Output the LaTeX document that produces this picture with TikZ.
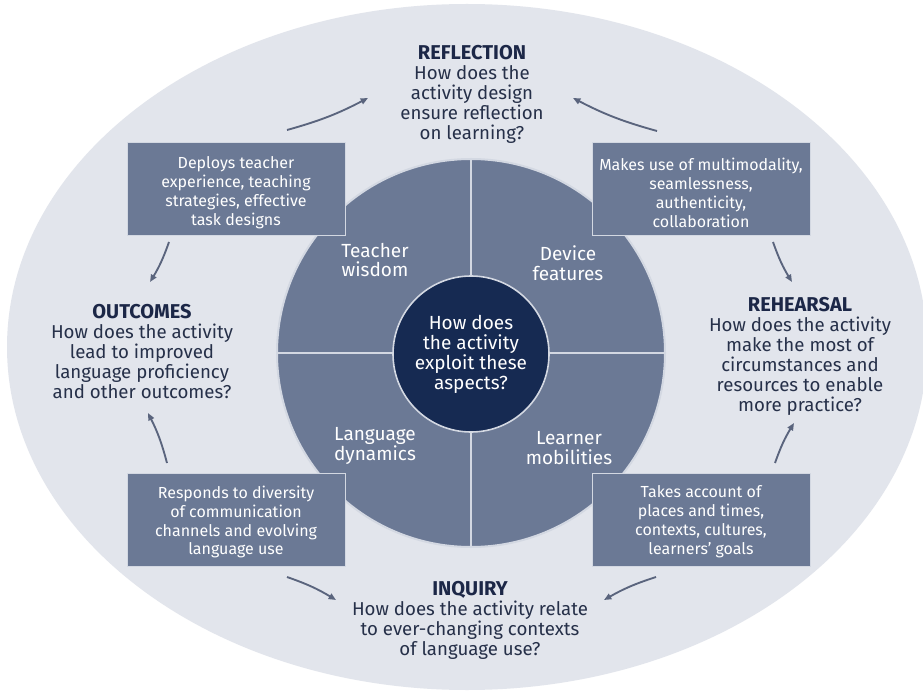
\documentclass[tikz,border=0pt]{standalone}
\usepackage{fontspec}
\setmainfont{Fira Sans}
\usetikzlibrary{arrows.meta}
\definecolor{outerbg}{HTML}{E2E5EC}
\definecolor{slate}{HTML}{6B7995}
\definecolor{navy}{HTML}{162A52}
\definecolor{ink}{HTML}{263049}
\definecolor{head}{HTML}{1C2747}
\definecolor{arrowc}{HTML}{5A647D}
\definecolor{rim}{HTML}{D3D8E2}
\newcommand{\hd}[1]{{\color{head}\fontsize{15}{15}\selectfont\bfseries #1}}
\begin{document}
\begin{tikzpicture}[x=0.75pt,y=-0.75pt,
  qtext/.style={text=ink, align=center, font=\fontsize{14}{15}\selectfont, inner sep=0pt},
  boxnode/.style={fill=slate, draw=rim, line width=0.75pt, minimum width=163.5pt, minimum height=69.75pt, inner sep=0pt},
  boxtext/.style={text=white, align=center, font=\fontsize{12}{14.2}\selectfont, inner sep=0pt},
  quad/.style={text=white, align=center, font=\fontsize{14.25}{14.8}\selectfont, inner sep=0pt},
  cyc/.style={draw=arrowc, line width=1.4pt, -{Triangle[length=5.5pt,width=4.5pt]}}]
\useasboundingbox (0,0) rectangle (923,691);
\fill[white] (0,0) rectangle (923,691);
% outer ellipse
\fill[outerbg] (467,347) ellipse [x radius=460, y radius=343];
% middle disc
\coordinate (c) at (471,353);
\fill[slate] (c) circle [radius=194];
\draw[rim, line width=1.5pt] (c) circle [radius=194];
\draw[rim, line width=1.5pt] (471,159) -- (471,547);
\draw[rim, line width=1.5pt] (277,353) -- (665,353);
% center disc
\node[circle, fill=navy, draw=rim, line width=1.2pt, minimum size=117pt, inner sep=0pt,
  text=white, align=center, font=\fontsize{14.25}{15}\selectfont] (ctr) at (471,354)
  {How does\\the activity\\exploit these\\aspects?};
% quadrant labels
\node[quad] (tw) at (375,260) {Teacher\\wisdom};
\node[quad] (df) at (568,263) {Device\\features};
\node[quad] (ld) at (375,446) {Language\\dynamics};
\node[quad] (lm) at (569,448) {Learner\\mobilities};
% boxes
\node[boxnode] (tl) at (236,189.5) {};
\node[boxnode] (tr) at (701,189.5) {};
\node[boxnode] (bl) at (236,519.5) {};
\node[boxnode] (br) at (701,519.5) {};
\node[boxtext] (tlt) at (236,192.5) {Deploys teacher\\experience, teaching\\strategies, effective\\task designs};
\node[boxtext] (trt) at (701,192.5) {Makes use of multimodality,\\seamlessness,\\authenticity,\\collaboration};
\node[boxtext] (blt) at (236,522) {Responds to diversity\\of communication\\channels and evolving\\language use};
\node[boxtext] (brt) at (701,522) {Takes account of\\places and times,\\contexts, cultures,\\learners’ goals};
% questions
\node[qtext] (refl) at (472,94) {\hd{REFLECTION}\\How does the\\activity design\\ensure reflection\\on learning?};
\node[qtext] (outc) at (142,352) {\hd{OUTCOMES}\\How does the activity\\lead to improved\\language proficiency\\and other outcomes?};
\node[qtext] (reh) at (800,356) {\hd{REHEARSAL}\\How does the activity\\make the most of\\circumstances and\\resources to enable\\more practice?};
\node[qtext] (inq) at (470,620) {\hd{INQUIRY}\\How does the activity relate\\to ever-changing contexts\\of language use?};
% arrow end points
\coordinate (a1s) at (287,130); \coordinate (a1e) at (368,98);
\coordinate (a2s) at (657,131); \coordinate (a2e) at (573,98);
\coordinate (a3s) at (773,242); \coordinate (a3e) at (792,282);
\coordinate (a4s) at (775,463); \coordinate (a4e) at (794,423);
\coordinate (a5s) at (656,577); \coordinate (a5e) at (604,600);
\coordinate (a6s) at (287,577); \coordinate (a6e) at (336,600);
\coordinate (a7s) at (167,463); \coordinate (a7e) at (148,413);
\coordinate (a8s) at (169,242); \coordinate (a8e) at (150,282);
\draw[cyc] (a1s) to[bend right=6] (a1e);
\draw[cyc] (a2s) to[bend left=6] (a2e);
\draw[cyc] (a3s) to[bend right=6] (a3e);
\draw[cyc] (a4s) to[bend left=6] (a4e);
\draw[cyc] (a5s) to[bend right=6] (a5e);
\draw[cyc] (a6s) to[bend left=6] (a6e);
\draw[cyc] (a7s) to[bend right=6] (a7e);
\draw[cyc] (a8s) to[bend left=6] (a8e);
\end{tikzpicture}
\end{document}
